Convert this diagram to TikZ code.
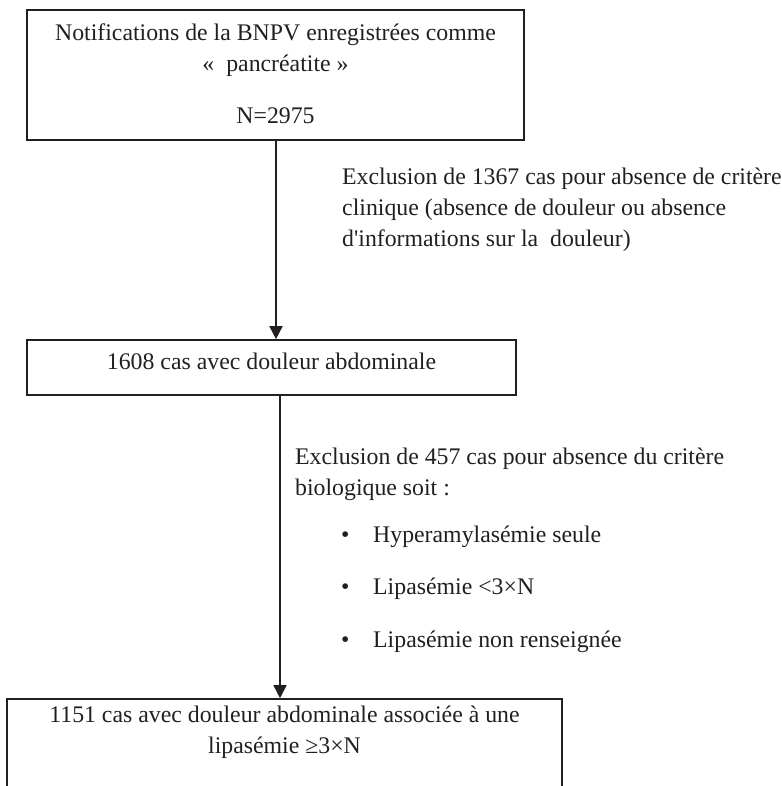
\documentclass[tikz,border=0pt]{standalone}
\usepackage{fontspec}
\setmainfont{Liberation Serif}[Ligatures=TeXOff]
\usetikzlibrary{arrows.meta}
\definecolor{ink}{RGB}{35,31,32}
\begin{document}
\begin{tikzpicture}[x=1pt,y=-1pt,
  every node/.style={font=\fontsize{23.8}{31}\selectfont, text=ink, inner sep=0pt},
  box/.style={draw=ink, line width=1.6pt, rectangle},
  arr/.style={draw=ink, line width=1.6pt, -{Triangle[length=13pt,width=13pt]}}]
\useasboundingbox (0,0) rectangle (781,786);
\clip (0,0) rectangle (781,786);

\node[box, minimum width=497pt, minimum height=130pt, text height=20pt, text depth=88pt] (b1) at (275.5,75)
  {\begin{tabular}[t]{@{}c@{}}Notifications de la BNPV enregistrées comme\\ «\ \ pancréatite »\\[21pt] N=2975\end{tabular}};

\node[anchor=base west] (ex1) at (342,185)
  {\begin{tabular}[t]{@{}l@{}}Exclusion de 1367 cas pour absence de critère\\ clinique (absence de douleur ou absence\\ d'informations sur la\ \ douleur)\end{tabular}};

\node[box, minimum width=489pt, minimum height=55pt, text height=20pt, text depth=17pt] (b2) at (271.5,367.5)
  {1608 cas avec douleur abdominale};

\node[anchor=base west] (ex2) at (295,464)
  {\begin{tabular}[t]{@{}l@{}}Exclusion de 457 cas pour absence du critère\\ biologique soit :\\[16pt]
   \hspace*{46pt}\makebox[32pt][l]{•}Hyperamylasémie seule\\[21.5pt]
   \hspace*{46pt}\makebox[32pt][l]{•}Lipasémie <3×N\\[21.5pt]
   \hspace*{46pt}\makebox[32pt][l]{•}Lipasémie non renseignée\end{tabular}};

\node[box, minimum width=555pt, minimum height=102pt, text height=20pt, text depth=76pt] (b3) at (284.5,750)
  {\begin{tabular}[t]{@{}c@{}}1151 cas avec douleur abdominale associée à une\\ lipasémie ≥3×N\end{tabular}};

\draw[arr] ([xshift=0.5pt]b1.south) -- ([xshift=0.5pt]b1.south |- b2.north);
\draw[arr] ([xshift=8.5pt]b2.south) -- ([xshift=8.5pt]b2.south |- b3.north);
\end{tikzpicture}
\end{document}
